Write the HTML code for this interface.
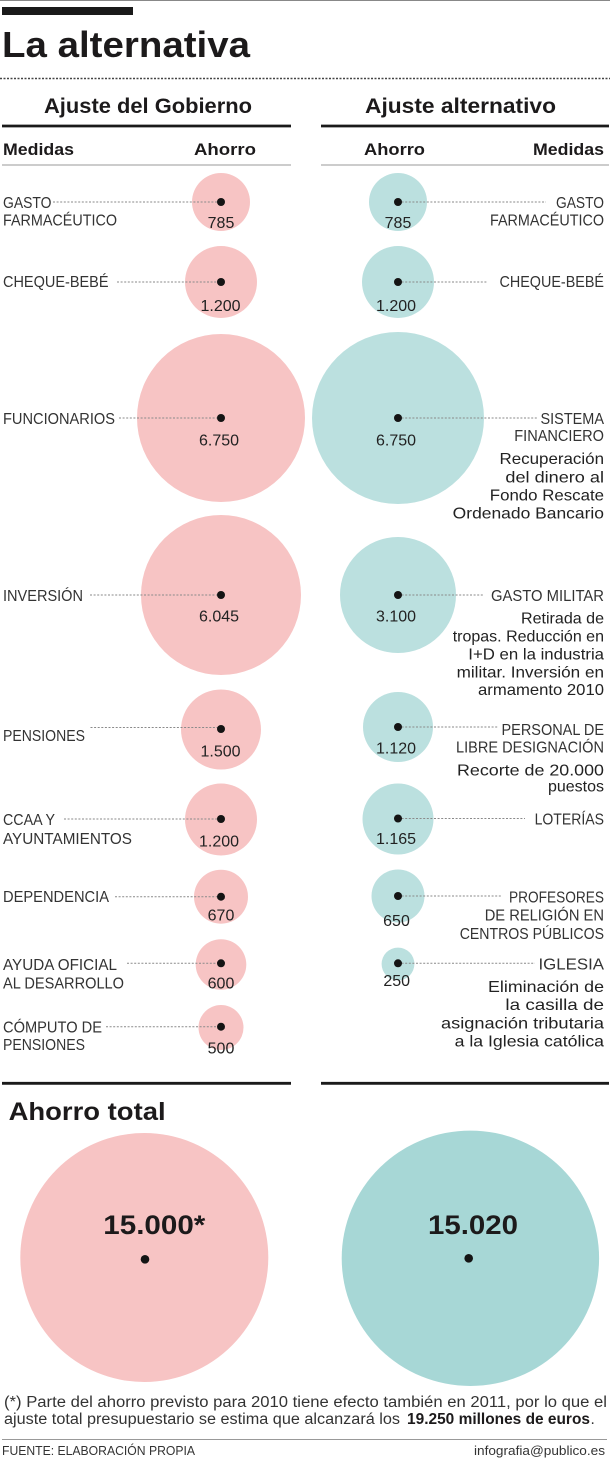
<!DOCTYPE html>
<html><head><meta charset="utf-8"><style>
html,body{margin:0;padding:0;background:#fff;}
svg{display:block;}
text{font-family:"Liberation Sans",sans-serif;}
.b{font-weight:bold;fill:#1c1a1b;}
.l{font-size:15.5px;fill:#333;}
.v{font-size:16px;fill:#222;text-anchor:middle;}
.d{font-size:16px;fill:#222;text-anchor:end;}
.r{text-anchor:end;}
.dash{stroke:#8a8a8a;stroke-width:1;stroke-dasharray:2,1.6;fill:none;}
.p{fill:#f7c4c4;}
.t{fill:#bbe0df;}
.dot{fill:#141414;}
</style></head><body>
<svg width="610" height="1459" viewBox="0 0 610 1459" xmlns="http://www.w3.org/2000/svg">
<line x1="0" y1="0.5" x2="610" y2="0.5" stroke="#888" stroke-width="1"/>
<rect x="2" y="7" width="131" height="8" fill="#1a1a1a"/>
<text class="b" x="2" y="57" font-size="36" textLength="248" lengthAdjust="spacingAndGlyphs">La alternativa</text>
<line x1="0" y1="78.5" x2="610" y2="78.5" stroke="#444" stroke-width="1.5" stroke-dasharray="2,1.5"/>
<text class="b" x="44" y="113" font-size="21" textLength="208" lengthAdjust="spacingAndGlyphs">Ajuste del Gobierno</text>
<text class="b" x="365" y="113" font-size="21" textLength="191" lengthAdjust="spacingAndGlyphs">Ajuste alternativo</text>
<line x1="2" y1="126" x2="291" y2="126" stroke="#1a1a1a" stroke-width="2.8"/>
<line x1="321" y1="126" x2="609" y2="126" stroke="#1a1a1a" stroke-width="2.8"/>
<text class="b" x="3" y="155" font-size="17" textLength="71" lengthAdjust="spacingAndGlyphs">Medidas</text>
<text class="b" x="194" y="155" font-size="17" textLength="62" lengthAdjust="spacingAndGlyphs">Ahorro</text>
<text class="b" x="364" y="155" font-size="17" textLength="61" lengthAdjust="spacingAndGlyphs">Ahorro</text>
<text class="b" x="533" y="155" font-size="17" textLength="71" lengthAdjust="spacingAndGlyphs">Medidas</text>
<line x1="2" y1="165" x2="291" y2="165" stroke="#999" stroke-width="1"/>
<line x1="321" y1="165" x2="609" y2="165" stroke="#999" stroke-width="1"/>

<!-- Row 1 -->
<circle class="p" cx="221" cy="202" r="29"/>
<circle class="t" cx="398" cy="202" r="29"/>
<line class="dash" x1="53" y1="202" x2="221" y2="202"/>
<line class="dash" x1="398" y1="202" x2="546" y2="202"/>
<circle class="dot" cx="221" cy="202" r="4"/>
<circle class="dot" cx="398" cy="202" r="4"/>
<text class="l" x="3" y="208" textLength="48.5" lengthAdjust="spacingAndGlyphs">GASTO</text>
<text class="l" x="3" y="225.5" textLength="114" lengthAdjust="spacingAndGlyphs">FARMACÉUTICO</text>
<text class="v" x="221" y="228">785</text>
<text class="v" x="398" y="228">785</text>
<text class="l r" x="604" y="208" textLength="48" lengthAdjust="spacingAndGlyphs">GASTO</text>
<text class="l r" x="604" y="225.5" textLength="114" lengthAdjust="spacingAndGlyphs">FARMACÉUTICO</text>

<!-- Row 2 -->
<circle class="p" cx="221" cy="282" r="36"/>
<circle class="t" cx="398" cy="282" r="36"/>
<line class="dash" x1="117" y1="282" x2="221" y2="282"/>
<line class="dash" x1="398" y1="282" x2="488" y2="282"/>
<circle class="dot" cx="221" cy="282" r="4"/>
<circle class="dot" cx="398" cy="282" r="4"/>
<text class="l" x="3" y="287" textLength="105.5" lengthAdjust="spacingAndGlyphs">CHEQUE-BEBÉ</text>
<text class="l r" x="604" y="287" textLength="104.5" lengthAdjust="spacingAndGlyphs">CHEQUE-BEBÉ</text>
<text class="v" x="220.5" y="311">1.200</text>
<text class="v" x="396" y="311">1.200</text>

<!-- Row 3 -->
<circle class="p" cx="221" cy="418" r="84"/>
<circle class="t" cx="398" cy="418" r="86"/>
<line class="dash" x1="119" y1="418" x2="221" y2="418"/>
<line class="dash" x1="398" y1="418" x2="537" y2="418"/>
<circle class="dot" cx="221" cy="418" r="4"/>
<circle class="dot" cx="398" cy="418" r="4"/>
<text class="l" x="3" y="424" textLength="112" lengthAdjust="spacingAndGlyphs">FUNCIONARIOS</text>
<text class="v" x="219" y="445.5">6.750</text>
<text class="v" x="396" y="445.5">6.750</text>
<text class="l r" x="604" y="424" textLength="63.5" lengthAdjust="spacingAndGlyphs">SISTEMA</text>
<text class="l r" x="604" y="441" textLength="89.7" lengthAdjust="spacingAndGlyphs">FINANCIERO</text>
<text class="d" x="604" y="464" textLength="104.5" lengthAdjust="spacingAndGlyphs">Recuperación</text>
<text class="d" x="604" y="482.7" textLength="98.6" lengthAdjust="spacingAndGlyphs">del dinero al</text>
<text class="d" x="604" y="500.5" textLength="114.2" lengthAdjust="spacingAndGlyphs">Fondo Rescate</text>
<text class="d" x="604" y="518.3" textLength="151.3" lengthAdjust="spacingAndGlyphs">Ordenado Bancario</text>

<!-- Row 4 -->
<circle class="p" cx="221" cy="595" r="80"/>
<circle class="t" cx="398" cy="595" r="58"/>
<line class="dash" x1="90" y1="595" x2="221" y2="595"/>
<line class="dash" x1="398" y1="595" x2="484" y2="595"/>
<circle class="dot" cx="221" cy="595" r="4"/>
<circle class="dot" cx="398" cy="595" r="4"/>
<text class="l" x="3" y="601" textLength="80" lengthAdjust="spacingAndGlyphs">INVERSIÓN</text>
<text class="v" x="219" y="621.7">6.045</text>
<text class="v" x="396" y="621.7">3.100</text>
<text class="l r" x="604" y="601" textLength="113" lengthAdjust="spacingAndGlyphs">GASTO MILITAR</text>
<text class="d" x="604" y="623.3" textLength="83" lengthAdjust="spacingAndGlyphs">Retirada de</text>
<text class="d" x="604" y="641.7" textLength="151.3" lengthAdjust="spacingAndGlyphs">tropas. Reducción en</text>
<text class="d" x="604" y="659.3" textLength="135.7" lengthAdjust="spacingAndGlyphs">I+D en la industria</text>
<text class="d" x="604" y="677.3" textLength="147.4" lengthAdjust="spacingAndGlyphs">militar. Inversión en</text>
<text class="d" x="604" y="695" textLength="126" lengthAdjust="spacingAndGlyphs">armamento 2010</text>

<!-- Row 5 -->
<circle class="p" cx="221" cy="729.5" r="40"/>
<circle class="t" cx="398" cy="727" r="35"/>
<line class="dash" x1="90.5" y1="727.5" x2="221" y2="727.5"/>
<line class="dash" x1="398" y1="727" x2="497.6" y2="727"/>
<circle class="dot" cx="221" cy="729" r="4"/>
<circle class="dot" cx="398" cy="727" r="4"/>
<text class="l" x="3" y="741" textLength="82" lengthAdjust="spacingAndGlyphs">PENSIONES</text>
<text class="v" x="220.5" y="756.7">1.500</text>
<text class="v" x="396" y="753.3">1.120</text>
<text class="l r" x="604" y="735" textLength="102.5" lengthAdjust="spacingAndGlyphs">PERSONAL DE</text>
<text class="l r" x="604" y="752.7" textLength="148" lengthAdjust="spacingAndGlyphs">LIBRE DESIGNACIÓN</text>
<text class="d" x="604" y="775.3" textLength="147" lengthAdjust="spacingAndGlyphs">Recorte de 20.000</text>
<text class="d" x="604" y="791.7">puestos</text>

<!-- Row 6 -->
<circle class="p" cx="221" cy="819.5" r="36"/>
<circle class="t" cx="398" cy="819" r="35.5"/>
<line class="dash" x1="64" y1="819" x2="221" y2="819"/>
<line class="dash" x1="398" y1="818.5" x2="525" y2="818.5"/>
<circle class="dot" cx="221" cy="819" r="4"/>
<circle class="dot" cx="398" cy="818.5" r="4"/>
<text class="l" x="3" y="825" textLength="52" lengthAdjust="spacingAndGlyphs">CCAA Y</text>
<text class="l" x="3" y="844" textLength="129" lengthAdjust="spacingAndGlyphs">AYUNTAMIENTOS</text>
<text class="v" x="219" y="846.7">1.200</text>
<text class="v" x="396" y="844">1.165</text>
<text class="l r" x="604" y="824.7" textLength="69.4" lengthAdjust="spacingAndGlyphs">LOTERÍAS</text>

<!-- Row 7 -->
<circle class="p" cx="221" cy="896.7" r="27"/>
<circle class="t" cx="398" cy="896" r="26.5"/>
<line class="dash" x1="115" y1="896.7" x2="221" y2="896.7"/>
<line class="dash" x1="398" y1="896" x2="501.5" y2="896"/>
<circle class="dot" cx="221" cy="896.7" r="4"/>
<circle class="dot" cx="398" cy="896" r="4"/>
<text class="l" x="3" y="902" textLength="106" lengthAdjust="spacingAndGlyphs">DEPENDENCIA</text>
<text class="v" x="221" y="920.7">670</text>
<text class="v" x="396.5" y="926">650</text>
<text class="l r" x="604" y="902.7" textLength="95" lengthAdjust="spacingAndGlyphs">PROFESORES</text>
<text class="l r" x="604" y="920.7" textLength="119.3" lengthAdjust="spacingAndGlyphs">DE RELIGIÓN EN</text>
<text class="l r" x="604" y="939" textLength="144.3" lengthAdjust="spacingAndGlyphs">CENTROS PÚBLICOS</text>

<!-- Row 8 -->
<circle class="p" cx="221" cy="964.5" r="25.3"/>
<circle class="t" cx="398" cy="964" r="16.4"/>
<line class="dash" x1="127" y1="963.3" x2="221" y2="963.3"/>
<line class="dash" x1="398" y1="963.3" x2="535" y2="963.3"/>
<circle class="dot" cx="221" cy="963.3" r="4"/>
<circle class="dot" cx="398" cy="963.3" r="4"/>
<text class="l" x="3" y="970" textLength="114" lengthAdjust="spacingAndGlyphs">AYUDA OFICIAL</text>
<text class="l" x="3" y="988.3" textLength="121" lengthAdjust="spacingAndGlyphs">AL DESARROLLO</text>
<text class="v" x="221" y="988.3">600</text>
<text class="v" x="396.7" y="986">250</text>
<text class="l r" x="604" y="969.3" textLength="65.5" lengthAdjust="spacingAndGlyphs">IGLESIA</text>
<text class="d" x="604" y="992" textLength="116" lengthAdjust="spacingAndGlyphs">Eliminación de</text>
<text class="d" x="604" y="1010" textLength="98.6" lengthAdjust="spacingAndGlyphs">la casilla de</text>
<text class="d" x="604" y="1028.3" textLength="163" lengthAdjust="spacingAndGlyphs">asignación tributaria</text>
<text class="d" x="604" y="1046.7" textLength="149.4" lengthAdjust="spacingAndGlyphs">a la Iglesia católica</text>

<!-- Row 9 -->
<circle class="p" cx="221" cy="1027.5" r="22.5"/>
<line class="dash" x1="106" y1="1026.7" x2="221" y2="1026.7"/>
<circle class="dot" cx="221" cy="1026.7" r="4"/>
<text class="l" x="3" y="1032.7" textLength="99" lengthAdjust="spacingAndGlyphs">CÓMPUTO DE</text>
<text class="l" x="3" y="1050" textLength="82" lengthAdjust="spacingAndGlyphs">PENSIONES</text>
<text class="v" x="221" y="1053.3">500</text>

<!-- Totals -->
<line x1="2" y1="1083.3" x2="291" y2="1083.3" stroke="#1a1a1a" stroke-width="2.8"/>
<line x1="321" y1="1083.3" x2="609" y2="1083.3" stroke="#1a1a1a" stroke-width="2.8"/>
<text class="b" x="8.6" y="1120" font-size="25" textLength="157" lengthAdjust="spacingAndGlyphs">Ahorro total</text>
<ellipse class="p" cx="144.3" cy="1257.5" rx="124" ry="124.5"/>
<ellipse cx="470.4" cy="1258.3" rx="128.7" ry="127.7" fill="#a7d7d6"/>
<text class="b" x="103.3" y="1234" font-size="27" textLength="102" lengthAdjust="spacingAndGlyphs">15.000*</text>
<text class="b" x="428" y="1234" font-size="27" textLength="90" lengthAdjust="spacingAndGlyphs">15.020</text>
<circle class="dot" cx="145" cy="1259.3" r="4.3"/>
<circle class="dot" cx="468.7" cy="1258.3" r="4.3"/>

<!-- Footnote -->
<text x="4" y="1407" font-size="15.5" fill="#333" textLength="603" lengthAdjust="spacingAndGlyphs">(*) Parte del ahorro previsto para 2010 tiene efecto también en 2011, por lo que el</text>
<text x="4" y="1424" font-size="15.5" fill="#333" textLength="396" lengthAdjust="spacingAndGlyphs">ajuste total presupuestario se estima que alcanzará los</text>
<text x="407" y="1424" font-size="15.5" font-weight="bold" fill="#1c1a1b" textLength="183" lengthAdjust="spacingAndGlyphs">19.250 millones de euros</text>
<text x="590.5" y="1424" font-size="15.5" fill="#333">.</text>
<line x1="2" y1="1439.5" x2="607" y2="1439.5" stroke="#999" stroke-width="1"/>
<text x="2" y="1455" font-size="13" fill="#333" textLength="193" lengthAdjust="spacingAndGlyphs">FUENTE: ELABORACIÓN PROPIA</text>
<text x="605" y="1455" font-size="13" fill="#333" text-anchor="end" textLength="131" lengthAdjust="spacingAndGlyphs">infografia@publico.es</text>
</svg>
</body></html>
